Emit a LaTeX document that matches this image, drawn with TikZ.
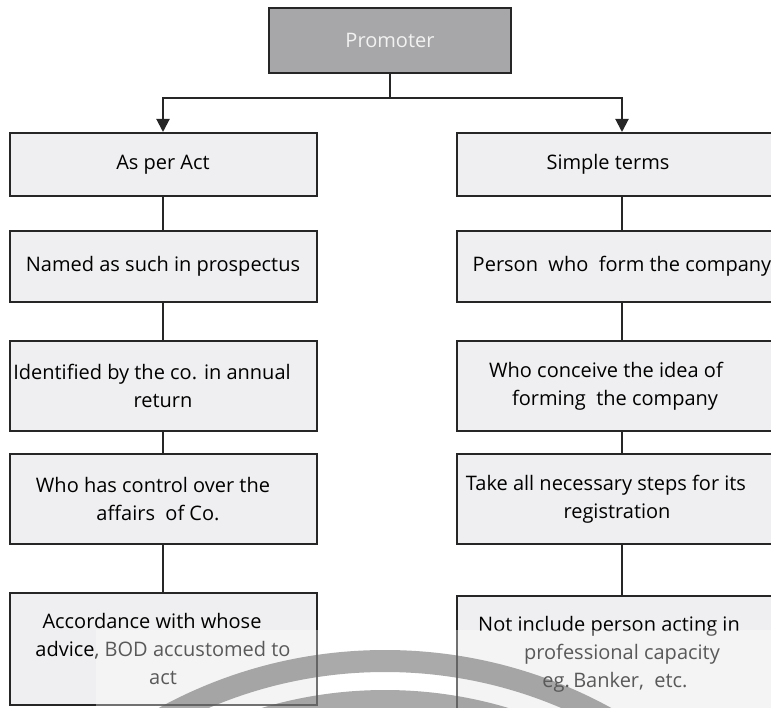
\documentclass[tikz,border=0pt]{standalone}
\usepackage{fontspec}
\setmainfont{Open Sans}
\usetikzlibrary{arrows.meta}
\definecolor{boxfill}{HTML}{EFEFF1}
\definecolor{headfill}{HTML}{A7A7A9}
\definecolor{edge}{HTML}{262626}
\definecolor{stampgray}{HTML}{7D7D7D}
\begin{document}
\begin{tikzpicture}[x=1pt,y=-1pt,
  box/.style={draw=edge, line width=2pt, fill=boxfill, align=center,
    inner sep=0pt, text=black, font=\fontsize{20}{28}\selectfont},
  leftbox/.style={box, minimum width=307pt},
  rightbox/.style={box, minimum width=330pt},
  headbox/.style={box, fill=headfill, text=white!95!black,
    minimum width=242pt, minimum height=65pt},
  conn/.style={draw=edge, line width=2pt},
  arrowconn/.style={conn, -{Triangle[length=13pt,width=13pt]}},
  stampband/.style={draw=stampgray, line width=22pt, blend mode=multiply}
]
\useasboundingbox (0,0) rectangle (771,708);
\clip (0,0) rectangle (771,708);

% top box
\node[headbox] (p) at (390,40.5) {Promoter};

% left column
\node[leftbox, minimum height=63pt]  (l1) at (163,164.5) {As per Act};
\node[leftbox, minimum height=71pt]  (l2) at (163,266.5) {Named as such in prospectus};
\node[leftbox, minimum height=90pt]  (l3) at (163,386)
  {Identified by the co. in annual\hspace*{22pt}\\ return};
\node[leftbox, minimum height=90pt]  (l4) at (163,499)
  {Who has control over the\hspace*{20pt}\\ affairs\ \ of Co.\hspace*{10pt}};
\node[leftbox, minimum height=112pt] (l5) at (163,649)
  {Accordance with whose\hspace*{22pt}\\ advice, BOD accustomed to\hspace*{30pt}\\ act};

% right column
\node[rightbox, minimum height=63pt]  (r1) at (622,164.5) {Simple terms\hspace*{28pt}};
\node[rightbox, minimum height=71pt]  (r2) at (622,266.5) {Person\ \ who\ \ form the company};
\node[rightbox, minimum height=90pt]  (r3) at (622,386)
  {Who conceive the idea of\hspace*{32pt}\\ forming\ \ the company\hspace*{14pt}};
\node[rightbox, minimum height=90pt]  (r4) at (622,499)
  {Take all necessary steps for its\hspace*{32pt}\\ registration\hspace*{10pt}};
\node[rightbox, minimum height=116pt] (r5) at (622,654)
  {Not include person acting in\hspace*{26pt}\\ professional capacity\\ eg.\,Banker,\ \ etc.\hspace*{14pt}};

% branching from the top box
\coordinate (fork) at (390,98);
\draw[conn] (p.south) -- (fork);
\draw[arrowconn] (fork) -| (l1.north);
\draw[arrowconn] (fork) -| (r1.north);

% vertical chains
\draw[conn] (l1) -- (l2);
\draw[conn] (l2) -- (l3);
\draw[conn] (l3) -- (l4);
\draw[conn] (l4) -- (l5);
\draw[conn] (r1) -- (r2);
\draw[conn] (r2) -- (r3);
\draw[conn] (r3) -- (r4);
\draw[conn] (r4) -- (r5);

% faded stamp across the lower band
\begin{scope}
  \clip (96,630) rectangle (771,708);
  \draw[stampband] (385,1120) circle [radius=459];
  \draw[stampband] (385,1120) circle [radius=419];
  \fill[white, opacity=0.35] (96,630) rectangle (771,708);
\end{scope}
\end{tikzpicture}
\end{document}
